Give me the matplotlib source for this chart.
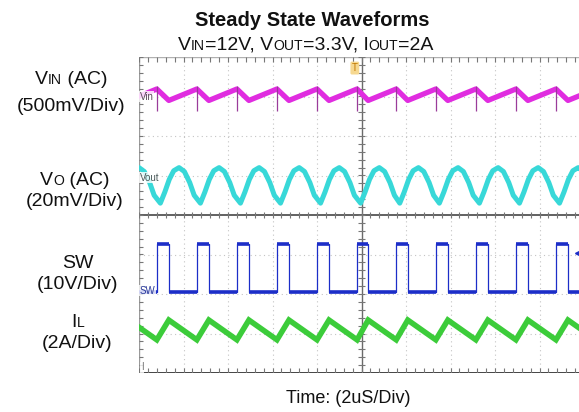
"""Steady state scope capture: VIN ripple, VOUT ripple, SW node, inductor current."""

import numpy as np
import matplotlib
matplotlib.use("Agg")
import matplotlib.pyplot as plt
from matplotlib.transforms import IdentityTransform

plt.rcParams['font.family'] = ['Liberation Sans', 'DejaVu Sans']

# ---------------------------------------------------------------------------
# Data, in scope divisions (x: -5..5 at 2us/div, y: -4..4)
# ---------------------------------------------------------------------------
sw_rise = [-5.50, -4.60, -3.70, -2.80, -1.90, -1.00, -0.10, 0.78, 1.67, 2.57, 3.47, 4.37]
sw_fall = [-5.23, -4.33, -3.43, -2.53, -1.63, -0.73, 0.15, 1.04, 1.94, 2.84, 3.74, 4.64]
sw_high = -0.73
sw_low = -1.95

il_peak = -2.66
il_valley = -3.16

vin_peak = 3.19
vin_valley = 2.90
vin_spike = (2.63, 3.27)   # bottom, top of the switching spikes

# one VOUT ripple cycle, offsets from the SW rising edge
vout_offset = [0.08, 0.18, 0.28, 0.38, 0.50, 0.62, 0.74, 0.84]
vout_level = [0.30, 0.58, 0.90, 1.12, 1.20, 1.10, 0.82, 0.50]

trig_pos = (-0.15, 3.72)
level_marker = (4.87, -0.96)

# colours of the scope channels
C_VIN = '#e02ce0'
C_VOUT = '#38d8d8'
C_SW = '#1c2ec8'
C_IL = '#3ccc3a'

W, H = 579, 412
fig = plt.figure(figsize=(W / 100, H / 100), dpi=100)
# scope screen is cropped on the right side of the picture
ax = fig.add_axes([139 / W, (H - 373) / H, 445 / W, 316 / H])
ax.set_xlim(-5, 5)
ax.set_ylim(-4, 4)
ax.set_axis_off()

# --- graticule ---
for i in range(-4, 5):
    if i != 0:
        ax.axvline(i, color='#c4c4c4', lw=0.8, ls=(0, (1, 3)), zorder=1)
for j in range(-3, 4):
    if j != 0:
        ax.axhline(j, color='#c4c4c4', lw=0.8, ls=(0, (1, 3)), zorder=1)
ax.axhline(0, color='#555555', lw=1.3, zorder=1)
ax.axvline(0, color='#6a6a6a', lw=1.0, zorder=1)
ax.axhline(4, color='#b0b0b0', lw=1.0, zorder=1)
ax.axhline(-4, color='#333333', lw=2.0, zorder=1)
ax.axvline(-5, color='#9a9a9a', lw=1.0, zorder=1)

xt = np.arange(-5, 5.01, 0.2)
yt = np.arange(-4, 4.01, 0.2)
tk = dict(color='#777777', lw=0.8, zorder=1)
ax.vlines(xt, -0.08, 0.08, **tk)
ax.vlines(xt, 3.88, 4.0, **tk)
ax.vlines(xt, -4.0, -3.88, **tk)
ax.hlines(yt, -0.07, 0.07, **tk)
ax.hlines(yt, -5.0, -4.9, **tk)

# --- SW node ---
sw_t, sw_v = [-5.0], [sw_low]
for r, f in zip(sw_rise, sw_fall):
    sw_t += [r, r, f, f]
    sw_v += [sw_low, sw_high, sw_high, sw_low]
sw_t.append(5.0)
sw_v.append(sw_low)
ax.plot(sw_t, sw_v, color=C_SW, lw=0.9, zorder=3)
ax.hlines([sw_high] * len(sw_rise), sw_rise, sw_fall, color=C_SW, lw=2.6, zorder=3)
ax.hlines([sw_low] * (len(sw_rise) - 1), sw_fall[:-1], sw_rise[1:], color=C_SW, lw=2.6, zorder=3)
ax.hlines(sw_low, sw_fall[-1], 5.0, color=C_SW, lw=2.6, zorder=3)

# --- inductor current ---
il_t, il_v = [], []
for r, f in zip(sw_rise, sw_fall):
    il_t += [r, f]
    il_v += [il_valley, il_peak]
il_t.append(sw_rise[-1] + 0.90)
il_v.append(il_valley)
ax.plot(il_t, il_v, color=C_IL, lw=4.0, solid_joinstyle='miter', zorder=3)

# --- input ripple ---
vin_t, vin_v = [], []
for r, f in zip(sw_rise, sw_fall):
    vin_t += [r, f]
    vin_v += [vin_peak, vin_valley]
vin_t.append(sw_rise[-1] + 0.90)
vin_v.append(vin_peak)
ax.plot(vin_t, vin_v, color=C_VIN, lw=3.8, zorder=3)
ax.vlines(sw_rise, *vin_spike, color='#9a3c9a', lw=0.9, zorder=4)

# --- output ripple ---
vo_t, vo_v = [], []
for r in sw_rise:
    vo_t += [r + o for o in vout_offset]
    vo_v += vout_level
vo_t.append(sw_rise[-1] + 0.90 + vout_offset[0])
vo_v.append(vout_level[0])
ax.plot(vo_t, vo_v, color=C_VOUT, lw=3.6, zorder=3)

# --- on-screen markers ---
lab = dict(fontsize=7, va='center', ha='left', zorder=5,
           bbox=dict(boxstyle='square,pad=0.05', fc='white', ec='none', alpha=0.8))
ax.text(-4.98, 2.99, 'Vin', color='#5a4a5a', **lab)
ax.text(-4.98, 0.94, 'Vout', color='#4a5a5a', **lab)
ax.text(-4.98, -1.92, 'SW', color='#2a3a9a', **lab)
ax.text(-4.96, -3.86, 'I', color='#777777', **lab)
ax.text(*trig_pos, 'T', fontsize=7, color='#c07800', ha='center', va='center',
        bbox=dict(boxstyle='round,pad=0.15', fc='#f6d890', ec='none'), zorder=5)
ax.plot(*level_marker, marker='<', ms=5, color=C_SW, zorder=5)


# --- texts with small-cap subscripts, placed in pixels ---
def rich_line(pieces, cx, base_y, size, weight='normal'):
    rend = fig.canvas.get_renderer()
    arts = []
    for s, small in pieces:
        fs = size * 0.72 if small else size
        arts.append(fig.text(0, 0, s, fontsize=fs, fontweight=weight, ha='left',
                             va='baseline', color='#111111',
                             transform=IdentityTransform()))
    widths = [a.get_window_extent(rend).width for a in arts]
    x = cx - sum(widths) / 2
    for a, w in zip(arts, widths):
        a.set_position((x, H - base_y))
        x += w


rich_line([('Steady State Waveforms', False)], 312, 26, 14.5, 'bold')
rich_line([('V', False), ('IN', True), ('=12V, V', False), ('OUT', True),
           ('=3.3V, I', False), ('OUT', True), ('=2A', False)], 306, 50, 14)

rich_line([('V', False), ('IN', True), (' (AC)', False)], 71, 84, 14)
rich_line([('(500mV/Div)', False)], 71, 111, 14)
rich_line([('V', False), ('O', True), (' (AC)', False)], 75, 185, 14)
rich_line([('(20mV/Div)', False)], 75, 206, 14)
rich_line([('SW', False)], 78, 268, 14)
rich_line([('(10V/Div)', False)], 77, 289, 14)
rich_line([('I', False), ('L', True)], 78, 327, 14)
rich_line([('(2A/Div)', False)], 77, 348, 14)
rich_line([('Time: (2uS/Div)', False)], 348, 403, 13)

fig.savefig('out.png', dpi=100)
